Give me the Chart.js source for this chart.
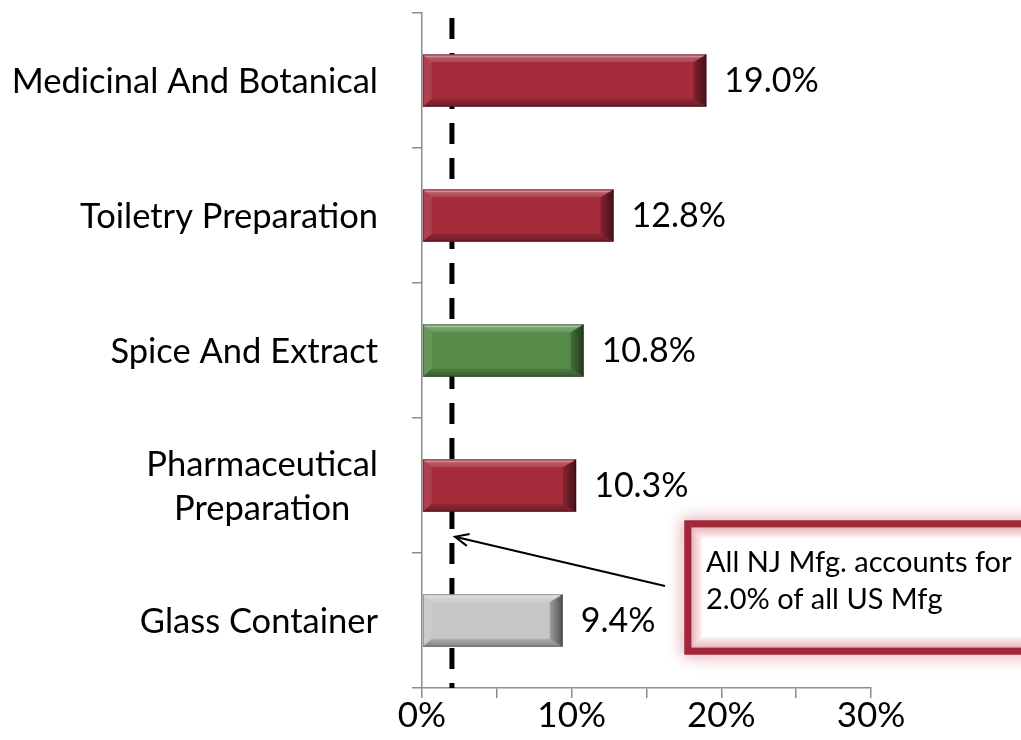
<!DOCTYPE html>
<html><head><meta charset="utf-8">
<script src="https://cdn.jsdelivr.net/npm/chart.js@4/dist/chart.umd.min.js"></script>
<style>html,body{margin:0;padding:0;background:#fff;overflow:hidden}#wrap{width:1021px;height:740px;position:relative}</style>
</head><body><div id="wrap"><canvas id="c" width="1021" height="740"></canvas></div>
<script>
const categories = [["Medicinal And Botanical"], ["Toiletry Preparation"], ["Spice And Extract"], ["Pharmaceutical", "Preparation"], ["Glass Container"]];
const values = [19.0, 12.8, 10.8, 10.3, 9.4];
const barColors = ["#A52B3B", "#A52B3B", "#558B47", "#A52B3B", "#C6C6C6"];
const xTickLabels = [0, 10, 20, 30];
const njShare = 2.0;
const noteLines = ["All NJ Mfg. accounts for", "2.0% of all US Mfg"];

const FONT = "Lato, 'Open Sans', sans-serif";

const njLine = {
  id: 'njLine',
  beforeDatasetsDraw(chart) {
    const {ctx, chartArea, scales} = chart;
    const x = scales.x.getPixelForValue(njShare);
    ctx.save();
    ctx.strokeStyle = '#000';
    ctx.lineWidth = 5;
    ctx.setLineDash([21, 14]);
    ctx.beginPath();
    ctx.moveTo(x, chartArea.top + 5);
    ctx.lineTo(x, chartArea.bottom);
    ctx.stroke();
    ctx.restore();
  }
};

const bevel = {
  id: 'bevel',
  afterDatasetsDraw(chart) {
    const {ctx} = chart;
    const meta = chart.getDatasetMeta(0);
    ctx.save();
    meta.data.forEach((el, i) => {
      const l = Math.min(el.base, el.x), r = Math.max(el.base, el.x);
      const t = el.y - el.height / 2, b = el.y + el.height / 2;
      const bv = 8, bl = 9, br = 13;
      const poly = (pts, fill) => {
        ctx.beginPath();
        ctx.moveTo(pts[0][0], pts[0][1]);
        for (let k = 1; k < pts.length; k++) ctx.lineTo(pts[k][0], pts[k][1]);
        ctx.closePath();
        ctx.fillStyle = fill;
        ctx.fill();
      };
      const gt = ctx.createLinearGradient(0, t, 0, t + bv);
      gt.addColorStop(0, 'rgba(255,255,255,0.30)');
      gt.addColorStop(1, 'rgba(255,255,255,0.12)');
      poly([[l, t], [r, t], [r - br, t + bv], [l + bl, t + bv]], gt);
      poly([[l, t], [l + bl, t + bv], [l + bl, b - bv], [l, b]], 'rgba(255,255,255,0.10)');
      const gb = ctx.createLinearGradient(0, b - bv, 0, b);
      gb.addColorStop(0, 'rgba(0,0,0,0.12)');
      gb.addColorStop(1, 'rgba(0,0,0,0.35)');
      poly([[l, b], [l + bl, b - bv], [r - br, b - bv], [r, b]], gb);
      const g = ctx.createLinearGradient(r - br, 0, r, 0);
      g.addColorStop(0, 'rgba(0,0,0,0.2)');
      g.addColorStop(1, 'rgba(0,0,0,0.6)');
      poly([[r, t], [r, b], [r - br, b - bv], [r - br, t + bv]], g);
      ctx.strokeStyle = 'rgba(255,255,255,0.35)';
      ctx.lineWidth = 1;
      ctx.beginPath();
      ctx.moveTo(l + 2, t + 2.5); ctx.lineTo(r - 3, t + 2.5);
      ctx.stroke();
      ctx.strokeStyle = 'rgba(0,0,0,0.3)';
      ctx.strokeRect(l + 0.5, t + 0.5, r - l - 1, b - t - 1);
    });
    ctx.restore();
  }
};

const valueLabels = {
  id: 'valueLabels',
  afterDatasetsDraw(chart) {
    const {ctx} = chart;
    const meta = chart.getDatasetMeta(0);
    ctx.save();
    ctx.font = '34px ' + FONT;
    ctx.fillStyle = '#000';
    ctx.textAlign = 'left';
    ctx.textBaseline = 'middle';
    meta.data.forEach((el, i) => {
      ctx.fillText(values[i].toFixed(1) + '%', el.x + 18, el.y + 1);
    });
    ctx.restore();
  }
};

const catLabels = {
  id: 'catLabels',
  afterDraw(chart) {
    const {ctx, chartArea, scales} = chart;
    ctx.save();
    ctx.font = '34.5px ' + FONT;
    ctx.fillStyle = '#000';
    ctx.textAlign = 'center';
    ctx.textBaseline = 'middle';
    const right = chartArea.left - 44;
    categories.forEach((lines, i) => {
      const y = scales.y.getPixelForValue(i);
      const w = Math.max(...lines.map(s => ctx.measureText(s).width));
      const cx = right - w / 2;
      lines.forEach((s, j) => {
        ctx.fillText(s, cx, y + (j - (lines.length - 1) / 2) * 44 + 1);
      });
    });
    ctx.restore();
  }
};

const note = {
  id: 'note',
  afterDraw(chart) {
    const {ctx, scales} = chart;
    ctx.save();
    const tipX = scales.x.getPixelForValue(njShare) + 3;
    const tipY = scales.y.getPixelForValue(3.38);
    const sx = 665, sy = 586;
    ctx.strokeStyle = '#000';
    ctx.lineWidth = 2;
    ctx.beginPath();
    ctx.moveTo(sx, sy); ctx.lineTo(tipX, tipY); ctx.stroke();
    const ang = Math.atan2(sy - tipY, sx - tipX);
    const L = 15, A = 0.42;
    ctx.beginPath();
    ctx.moveTo(tipX + L * Math.cos(ang + A), tipY + L * Math.sin(ang + A));
    ctx.lineTo(tipX, tipY);
    ctx.lineTo(tipX + L * Math.cos(ang - A), tipY + L * Math.sin(ang - A));
    ctx.stroke();
    const bx = 688, by = 524, bw = 360, bh = 127;
    ctx.fillStyle = '#fff';
    ctx.shadowColor = 'rgba(200,70,90,0.8)';
    ctx.shadowBlur = 16;
    ctx.strokeStyle = '#A1283A';
    ctx.lineWidth = 7;
    ctx.strokeRect(bx, by, bw, bh);
    ctx.shadowBlur = 0;
    ctx.shadowColor = 'transparent';
    ctx.fillRect(bx + 3, by + 3, bw - 6, bh - 6);
    for (let k = 0; k < 11; k++) {
      ctx.strokeStyle = 'rgba(215,120,135,' + (0.6 * (1 - k / 11)).toFixed(3) + ')';
      ctx.lineWidth = 1;
      const o = 4 + k;
      ctx.strokeRect(bx + o, by + o, bw - 2 * o, bh - 2 * o);
    }
    ctx.strokeStyle = '#A1283A';
    ctx.lineWidth = 7;
    ctx.strokeRect(bx, by, bw, bh);
    ctx.fillStyle = '#000';
    ctx.font = '29px ' + FONT;
    ctx.textAlign = 'left';
    ctx.textBaseline = 'alphabetic';
    noteLines.forEach((s, j) => ctx.fillText(s, 706, 572 + j * 37));
    ctx.restore();
  }
};

new Chart(document.getElementById('c'), {
  type: 'bar',
  data: {
    labels: categories,
    datasets: [{
      data: values,
      backgroundColor: barColors,
      borderWidth: 0,
      barPercentage: 0.39,
      categoryPercentage: 1
    }]
  },
  options: {
    indexAxis: 'y',
    responsive: false,
    animation: false,
    devicePixelRatio: 1,
    layout: {padding: {left: 412, right: 150, top: 13, bottom: 6}},
    plugins: {legend: {display: false}, tooltip: {enabled: false}},
    scales: {
      x: {
        min: 0, max: 30,
        ticks: {
          stepSize: 5, autoSkip: false, maxRotation: 0, color: '#000', padding: -3,
          font: {family: FONT, size: 35},
          callback: (v) => xTickLabels.includes(v) ? v + '%' : ''
        },
        grid: {drawOnChartArea: false, drawTicks: true, tickLength: 10, color: '#8c8c8c', lineWidth: 1.5},
        border: {color: '#8c8c8c', width: 1.5}
      },
      y: {
        ticks: {display: false},
        grid: {offset: true, drawOnChartArea: false, drawTicks: true, tickLength: 10, color: '#8c8c8c', lineWidth: 1.5},
        border: {color: '#8c8c8c', width: 1.5}
      }
    }
  },
  plugins: [njLine, bevel, valueLabels, catLabels, note]
});
</script>
</body></html>
